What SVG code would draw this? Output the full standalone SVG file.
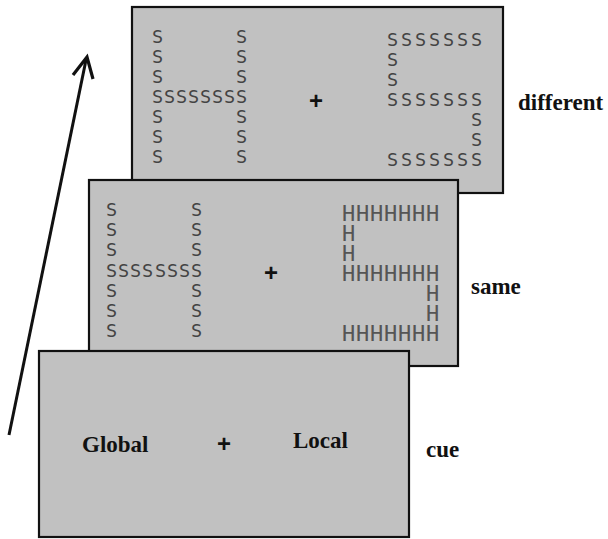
<svg xmlns="http://www.w3.org/2000/svg" width="608" height="539" viewBox="0 0 608 539">
<style>
.panel{fill:#c1c1c1;stroke:#111;stroke-width:2.2}
.lbl{font-family:"Liberation Serif","Times New Roman",serif;font-weight:bold;font-size:23px;fill:#111}
.plus{font-family:"Liberation Sans",Arial,sans-serif;font-weight:bold;font-size:24px;fill:#111;text-anchor:middle}
.ls{font-family:"DejaVu Sans Mono","Liberation Mono",monospace;font-size:18.5px;fill:#444}
.lh{font-family:"DejaVu Sans Mono","Liberation Mono",monospace;font-size:22px;fill:#555}
</style>
<rect width="608" height="539" fill="#fff"/>
<g id="panel-different">
<rect class="panel" x="132" y="7" width="371" height="186"/>
<text class="ls" x="152 236 152 236 152 236 152 164 176 188 200 212 224 236 152 236 152 236 152 236" y="43 43 63 63 83 83 103 103 103 103 103 103 103 103 123 123 143 143 163 163">SSSSSSSSSSSSSSSSSSSS</text>
<text class="plus" x="316" y="109">+</text>
<text class="ls" x="387 401 415 429 443 457 471 387 387 387 401 415 429 443 457 471 471 471 387 401 415 429 443 457 471" y="46 46 46 46 46 46 46 66 86 106 106 106 106 106 106 106 126 146 166 166 166 166 166 166 166">SSSSSSSSSSSSSSSSSSSSSSSSS</text>
<text class="lbl" x="518" y="110">different</text>
</g>
<g id="panel-same">
<rect class="panel" x="89" y="180" width="369" height="186"/>
<text class="ls" x="106 191 106 191 106 191 106 118 130 142 155 167 179 191 106 191 106 191 106 191" y="216 216 236 236 256 256 277 277 277 277 277 277 277 277 297 297 317 317 337 337">SSSSSSSSSSSSSSSSSSSS</text>
<text class="plus" x="271" y="281">+</text>
<text class="lh" x="342 356 370 384 398 412 426 342 342 342 356 370 384 398 412 426 426 426 342 356 370 384 398 412 426" y="221 221 221 221 221 221 221 241 261 281 281 281 281 281 281 281 301 321 341 341 341 341 341 341 341">HHHHHHHHHHHHHHHHHHHHHHHHH</text>
<text class="lbl" x="471" y="294">same</text>
</g>
<g id="panel-cue">
<rect class="panel" x="39" y="351" width="370" height="186"/>
<text class="lbl" x="82" y="452">Global</text>
<text class="plus" x="224" y="452">+</text>
<text class="lbl" x="293" y="448">Local</text>
<text class="lbl" x="426" y="457">cue</text>
</g>
<g id="connectors">
<line x1="9" y1="435" x2="86" y2="60" stroke="#111" stroke-width="3"/>
<polyline points="73,75 87,57 93,79" fill="none" stroke="#111" stroke-width="3.2" stroke-linejoin="miter"/>
</g>
</svg>
